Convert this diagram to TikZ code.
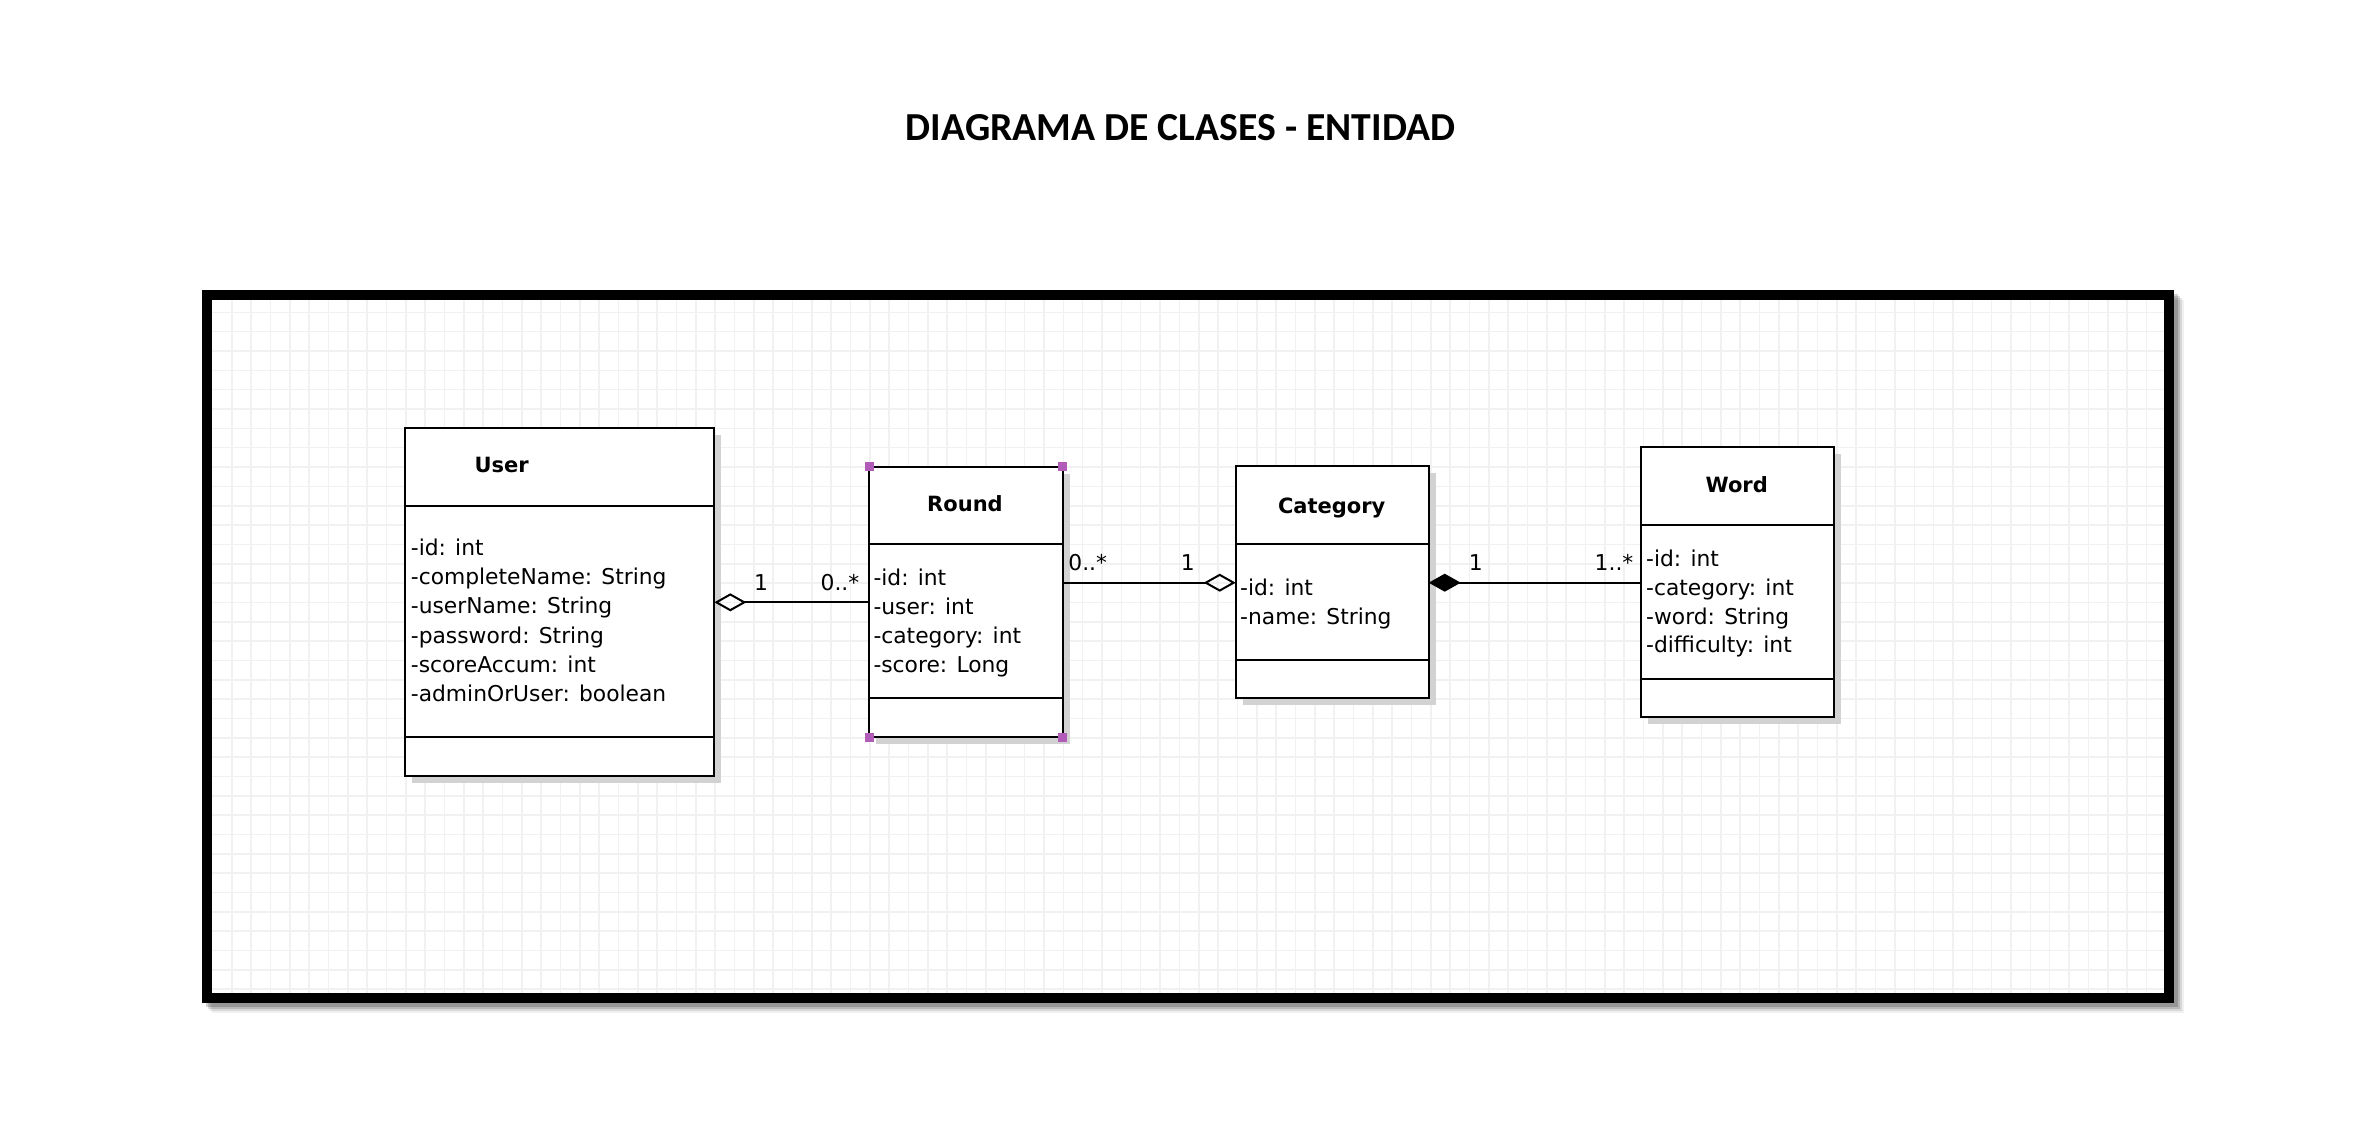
\documentclass[tikz,border=0pt]{standalone}
\usepackage{fontspec}
\setmainfont{DejaVu Sans}
\newfontfamily\titlefont{Carlito}
\usetikzlibrary{arrows.meta}
\definecolor{gridc}{RGB}{241,241,241}
\definecolor{handlecol}{RGB}{178,92,186}
\definecolor{shadowc}{RGB}{210,210,210}
\begin{document}
\begin{tikzpicture}[x=1pt,y=-1pt,
  cls/.style={draw=black, line width=2, fill=white, inner sep=0, outer sep=0},
  divider/.style={line width=2},
  shadowbox/.style={fill=shadowc},
  attr/.style={font=\fontsize{21.8}{24}\selectfont, anchor=base west, inner sep=0},
  ttl/.style={font=\fontsize{21}{24}\selectfont\bfseries, anchor=base, inner sep=0},
  mult/.style={font=\fontsize{21.8}{24}\selectfont, anchor=base, inner sep=0},
  conn/.style={line width=2},
  handle/.style={fill=handlecol, minimum size=9, inner sep=0, outer sep=0}
]
\useasboundingbox (0,0) rectangle (2368,1136);
\fill[white] (0,0) rectangle (2368,1136);

% title
\node[font=\titlefont\bfseries\fontsize{39.7}{42}\selectfont, anchor=base, inner sep=0] (title) at (1180.5,140) {DIAGRAMA DE CLASES - ENTIDAD};

% frame shadow
\foreach \o/\op in {10/0.06, 8/0.10, 6/0.14, 4/0.18}{
  \draw[line width=10, black, opacity=\op] (207+\o,295+\o) rectangle (2169+\o,998+\o);
}
\fill[white] (212,300) rectangle (2164,993);
% grid
\begin{scope}
  \clip (212,300) rectangle (2164,993);
  \foreach \i in {0,...,100}{
    \draw[gridc, line width=1.6] ({231.7+19.34*\i},300) -- ({231.7+19.34*\i},993);
  }
  \foreach \j in {0,...,35}{
    \draw[gridc, line width=1.6] (212,{312.3+19.34*\j}) -- (2164,{312.3+19.34*\j});
  }
\end{scope}
% frame
\draw[line width=10] (207,295) rectangle (2169,998);

% ---------- User ----------
\fill[shadowbox] (412,435.3) rectangle (721.3,782.7);
\node[cls, minimum width=309.3, minimum height=347.4] (user) at (559.65,602) {};
\draw[divider] (user.west |- 0,505.7) -- (user.east |- 0,505.7);
\draw[divider] (user.west |- 0,737.3) -- (user.east |- 0,737.3);
\node[ttl] (usert) at (501.7,472.5) {User};
\node[attr] (u1) at (410.7,555.5) {-id: int};
\node[attr] (u2) at (410.7,584.7) {-completeName: String};
\node[attr] (u3) at (410.7,613.9) {-userName: String};
\node[attr] (u4) at (410.7,643.1) {-password: String};
\node[attr] (u5) at (410.7,672.3) {-scoreAccum: int};
\node[attr] (u6) at (410.7,701.5) {-adminOrUser: boolean};

% ---------- Round ----------
\fill[shadowbox] (876,473.7) rectangle (1069.7,744.3);
\node[cls, minimum width=193.7, minimum height=270.6] (round) at (965.85,602) {};
\draw[divider] (round.west |- 0,544) -- (round.east |- 0,544);
\draw[divider] (round.west |- 0,698.3) -- (round.east |- 0,698.3);
\node[ttl] (roundt) at (965,511.5) {Round};
\node[attr] (r1) at (873.3,585.8) {-id: int};
\node[attr] (r2) at (873.3,614.8) {-user: int};
\node[attr] (r3) at (873.3,643.8) {-category: int};
\node[attr] (r4) at (873.3,672.8) {-score: Long};
\node[handle] (h1) at (round.north west) {};
\node[handle] (h2) at (round.north east) {};
\node[handle] (h3) at (round.south west) {};
\node[handle] (h4) at (round.south east) {};

% ---------- Category ----------
\fill[shadowbox] (1242.7,473) rectangle (1435.7,705.3);
\node[cls, minimum width=193, minimum height=232.3] (category) at (1332.2,582.15) {};
\draw[divider] (category.west |- 0,544.3) -- (category.east |- 0,544.3);
\draw[divider] (category.west |- 0,660) -- (category.east |- 0,660);
\node[ttl] (categoryt) at (1331.7,513) {Category};
\node[attr] (c1) at (1240,595.8) {-id: int};
\node[attr] (c2) at (1240,624.8) {-name: String};

% ---------- Word ----------
\fill[shadowbox] (1648,454.3) rectangle (1841.3,724.3);
\node[cls, minimum width=193.3, minimum height=270] (word) at (1737.65,582.3) {};
\draw[divider] (word.west |- 0,525) -- (word.east |- 0,525);
\draw[divider] (word.west |- 0,679) -- (word.east |- 0,679);
\node[ttl] (wordt) at (1736.7,492.5) {Word};
\node[attr] (w1) at (1646,566.8) {-id: int};
\node[attr] (w2) at (1646,595.5) {-category: int};
\node[attr] (w3) at (1646,624.2) {-word: String};
\node[attr] (w4) at (1646,652.9) {-difficulty: int};

% ---------- connectors ----------
\draw[conn, -{Diamond[open, length=32, width=18, line width=2]}] (round.west |- 0,602.3) -- (user.east |- 0,602.3);
\draw[conn, -{Diamond[open, length=32, width=18, line width=2]}] (round.east |- 0,582.7) -- (category.west |- 0,582.7);
\draw[conn, -{Diamond[length=32, width=18]}] (word.west |- 0,582.7) -- (category.east |- 0,582.7);

% multiplicities
\node[mult] (m1) at (761,590) {1};
\node[mult] (m2) at (840,590) {0..*};
\node[mult] (m3) at (1087.7,570.5) {0..*};
\node[mult] (m4) at (1187.7,570.5) {1};
\node[mult] (m5) at (1475.7,570.2) {1};
\node[mult] (m6) at (1614,570.2) {1..*};
\end{tikzpicture}
\end{document}
